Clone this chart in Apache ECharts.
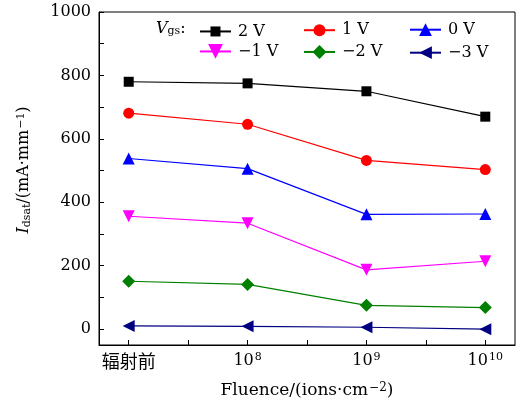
<!DOCTYPE html>
<html><head><meta charset="utf-8">
<script src="https://cdn.jsdelivr.net/npm/echarts@6/dist/echarts.min.js"></script>
<style>html,body{margin:0;padding:0;background:#fff}#c{width:519px;height:410px}</style>
</head><body><div id="c"></div>
<script>
var categories = ['辐射前', '10^8', '10^9', '10^10'];
var seriesNames = ['2 V', '1 V', '0 V', '\u22121 V', '\u22122 V', '\u22123 V'];
var v2 = [780, 775, 750, 670];
var v1 = [681, 646, 532, 503];
var v0 = [538, 506, 362, 363];
var vm1 = [356, 334, 187, 214];
var vm2 = [151, 141, 75, 68];
var vm3 = [10, 9, 6, 0];
var yTickLabels = [0, 200, 400, 600, 800, 1000];
var yMinorTicks = [0, 100, 200, 300, 400, 500, 600, 700, 800, 900, 1000];

var allValues = [v2, v1, v0, vm1, vm2, vm3];
var colors = ['#000000', '#ff0000', '#0000ff', '#ff00ff', '#008000', '#000080'];
var symbols = ['rect', 'circle', 'triangle', 'path://M0,0 L10,0 L5,9 Z', 'diamond', 'path://M9,0 L9,10 L0,5 Z'];
var sizes = [10, 11, 12, 12, 13, 12];
var legendIconH = [12.5, 15, 16, 18.5, 17.5, 16];
var FONT = 'DejaVu Serif';
var FS = 16;

var chart = echarts.init(document.getElementById('c'), null, {renderer: 'canvas'});

var series = allValues.map(function (vals, i) {
  return {
    name: seriesNames[i], type: 'line',
    data: vals.map(function (v, j) { return [j, v]; }),
    symbol: symbols[i], symbolSize: sizes[i],
    lineStyle: {color: colors[i], width: 1.2},
    itemStyle: {color: colors[i]},
    emphasis: {disabled: true}, animation: false
  };
});

var legendPos = [[199, 29.7], [303, 29.7], [409, 29.7], [199, 52.7], [303, 52.7], [409, 52.7]];
var legends = seriesNames.map(function (n, i) {
  return {
    data: [n], left: legendPos[i][0], top: legendPos[i][1] - legendIconH[i] / 2,
    itemWidth: 31, itemHeight: legendIconH[i], padding: 0,
    textStyle: {fontFamily: FONT, fontSize: FS, color: '#000', padding: [0, 0, 0, 2]},
    selectedMode: false
  };
});

var richSup = {
  n: {fontFamily: FONT, fontSize: FS, color: '#000'},
  c: {fontFamily: 'Noto Sans CJK SC', fontSize: 18, color: '#000'},
  sup: {fontFamily: FONT, fontSize: 11, color: '#000', verticalAlign: 'top', padding: [0, 0, 6, 1]}
};

chart.setOption({
  animation: false,
  grid: {left: 99, right: 4, top: 12, bottom: 65, show: true, borderColor: '#000', borderWidth: 1, backgroundColor: 'transparent'},
  legend: legends,
  xAxis: {
    type: 'value', min: -0.25, max: 3.25,
    splitLine: {show: false},
    axisLine: {onZero: false, lineStyle: {color: '#000', width: 1}},
    axisTick: {inside: true, length: 5, customValues: [0, 0.5, 1, 1.5, 2, 2.5, 3], lineStyle: {color: '#000'}},
    axisLabel: {
      customValues: [0, 1, 2, 3], margin: 7,
      formatter: function (v) {
        var c = categories[Math.round(v)];
        if (c.indexOf('^') < 0) return '{c|' + c + '}';
        var p = c.split('^');
        return '{n|' + p[0] + '}{sup|' + p[1] + '}';
      },
      rich: richSup
    }
  },
  yAxis: {
    type: 'value', min: -50, max: 1000,
    splitLine: {show: false},
    axisLine: {onZero: false, lineStyle: {color: '#000', width: 1}},
    axisTick: {inside: true, length: 5, customValues: yMinorTicks, lineStyle: {color: '#000'}},
    axisLabel: {customValues: yTickLabels, margin: 8, fontFamily: FONT, fontSize: FS, color: '#000',
      formatter: function (v) { return String(v); }}
  },
  graphic: [
    {
      type: 'text', left: 156, top: 21,
      style: {
        text: '{i|V}{sub|gs}{n|:}',
        rich: {
          i: {fontFamily: FONT, fontStyle: 'italic', fontSize: FS, color: '#000'},
          sub: {fontFamily: FONT, fontSize: 11, color: '#000', verticalAlign: 'bottom', padding: [5, 0, 0, 0]},
          n: {fontFamily: FONT, fontSize: FS, color: '#000'}
        }
      }
    },
    {
      type: 'text', x: 24, y: 170, rotation: Math.PI / 2,
      style: {
        text: '{i|I}{sub|dsat}{n|/(mA\u00b7mm}{sup|\u22121}{n|)}',
        align: 'center', verticalAlign: 'middle',
        rich: {
          i: {fontFamily: FONT, fontStyle: 'italic', fontSize: FS, color: '#000'},
          sub: {fontFamily: FONT, fontSize: 11, color: '#000', verticalAlign: 'bottom', padding: [5, 0, 0, 0]},
          n: {fontFamily: FONT, fontSize: FS, color: '#000'},
          sup: {fontFamily: FONT, fontSize: 11, color: '#000', verticalAlign: 'top', padding: [0, 0, 6, 1]}
        }
      }
    },
    {
      type: 'text', x: 307, y: 391,
      style: {
        text: '{n|Fluence/(ions\u00b7cm}{sup|\u22122}{n|)}',
        align: 'center', verticalAlign: 'middle',
        rich: {
          n: {fontFamily: FONT, fontSize: 17, color: '#000'},
          sup: {fontFamily: FONT, fontSize: 12, color: '#000', verticalAlign: 'top', padding: [0, 0, 6, 1]}
        }
      }
    }
  ],
  series: series
});
</script></body></html>
